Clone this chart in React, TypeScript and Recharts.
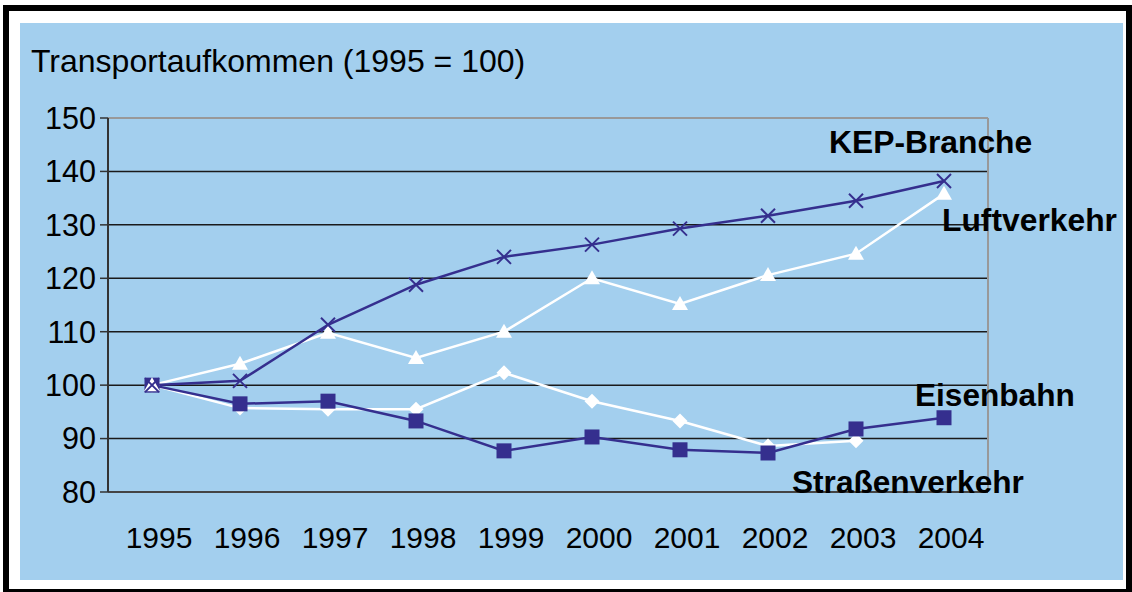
import React from "react";
import { LineChart, Line, XAxis, YAxis, ReferenceLine } from "recharts";

const years = ["1995", "1996", "1997", "1998", "1999", "2000", "2001", "2002", "2003", "2004"];
const kep = [100, 100.8, 111.3, 118.8, 124, 126.3, 129.3, 131.7, 134.5, 138.2];
const luft = [100, 104, 109.8, 105.1, 110, 120, 115.2, 120.6, 124.6, 135.8];
const strasse: (number | null)[] = [100, 95.7, 95.5, 95.5, 102.3, 97, 93.3, 88.6, 89.6, null];
const bahn = [100, 96.5, 97, 93.3, 87.7, 90.3, 87.9, 87.3, 91.8, 93.9];
const yTicks = [80, 90, 100, 110, 120, 130, 140, 150];
const gridValues = [90, 100, 110, 120, 130, 140];
const boundaryTicks = [-0.5, 0.5, 1.5, 2.5, 3.5, 4.5, 5.5, 6.5, 7.5, 8.5, 9.5];
const labelTicks = [0, 1, 2, 3, 4, 5, 6, 7, 8, 9];

const data = years.map((y, i) => ({
  i,
  year: y,
  kep: kep[i],
  luft: luft[i],
  strasse: strasse[i],
  bahn: bahn[i],
}));

const DARK = "#352f8e";
const FONT = "'Liberation Sans', Arial, sans-serif";

const SquareDot = (p: any) => {
  if (p.cx == null || p.cy == null || p.value == null) return null;
  return <rect key={p.index} x={p.cx - 7.5} y={p.cy - 7.5} width={15} height={15} fill={DARK} />;
};
const DiamondDot = (p: any) => {
  if (p.cx == null || p.cy == null || p.value == null) return null;
  const s = 7.5;
  return (
    <polygon
      key={p.index}
      points={`${p.cx},${p.cy - s} ${p.cx + s},${p.cy} ${p.cx},${p.cy + s} ${p.cx - s},${p.cy}`}
      fill="#fff"
    />
  );
};
const TriangleDot = (p: any) => {
  if (p.cx == null || p.cy == null || p.value == null) return null;
  return (
    <polygon
      key={p.index}
      points={`${p.cx},${p.cy - 8} ${p.cx + 8},${p.cy + 6} ${p.cx - 8},${p.cy + 6}`}
      fill="#fff"
    />
  );
};
const CrossDot = (p: any) => {
  if (p.cx == null || p.cy == null || p.value == null) return null;
  const s = 7;
  return (
    <g key={p.index} stroke={DARK} strokeWidth={2}>
      <line x1={p.cx - s} y1={p.cy - s} x2={p.cx + s} y2={p.cy + s} />
      <line x1={p.cx - s} y1={p.cy + s} x2={p.cx + s} y2={p.cy - s} />
    </g>
  );
};

const YearTick = (p: any) => {
  const { x, y, payload } = p;
  return (
    <text x={x + 7} y={y} dy={22} textAnchor="middle" fontSize={30} fontFamily={FONT} fill="#000">
      {years[payload.value]}
    </text>
  );
};

export default function App() {
  return (
    <div style={{ position: "absolute", left: 0, top: 0, width: 1132, height: 592, background: "#fff", overflow: "hidden" }}>
      <div
        style={{
          position: "absolute",
          left: 3,
          top: 5,
          width: 1129,
          height: 590,
          border: "6px solid #000",
          boxSizing: "border-box",
        }}
      />
      <div style={{ position: "absolute", left: 20, top: 23, width: 1103, height: 557, background: "#a3cfee" }} />
      <div style={{ position: "absolute", left: 0, top: 0 }}>
        <LineChart width={1132} height={592} data={data} margin={{ top: 118, right: 144, left: 48, bottom: 40 }}>
          <XAxis
            xAxisId={0}
            type="number"
            dataKey="i"
            domain={[-0.5, 9.5]}
            ticks={boundaryTicks}
            tick={false}
            tickSize={8}
            height={10}
            stroke="#333"
            axisLine={{ stroke: "#444", strokeWidth: 2 }}
            tickLine={{ stroke: "#333", strokeWidth: 1 }}
            allowDataOverflow
          />
          <XAxis
            xAxisId="lab"
            type="number"
            dataKey="i"
            domain={[-0.5, 9.5]}
            ticks={labelTicks}
            tick={<YearTick />}
            tickSize={0}
            tickMargin={24}
            axisLine={false}
            tickLine={false}
            height={50}
            allowDataOverflow
          />
          <YAxis
            type="number"
            domain={[80, 150]}
            ticks={yTicks}
            width={60}
            tickSize={8}
            tickMargin={4}
            tick={{ fontSize: 30.5, fontFamily: FONT, fill: "#000" }}
            axisLine={{ stroke: "#333", strokeWidth: 2 }}
            tickLine={{ stroke: "#333", strokeWidth: 1.5 }}
            interval={0}
          />
          {gridValues.map((v) => (
            <ReferenceLine key={v} y={v} stroke="#1a1a1a" strokeWidth={1.5} />
          ))}
          <ReferenceLine y={150} stroke="#999" strokeWidth={2} />
          <ReferenceLine x={9.5} stroke="#999" strokeWidth={2} />
          <Line
            dataKey="strasse"
            stroke="#fff"
            strokeWidth={2.5}
            dot={<DiamondDot />}
            isAnimationActive={false}
            connectNulls={false}
          />
          <Line dataKey="bahn" stroke={DARK} strokeWidth={2.5} dot={<SquareDot />} isAnimationActive={false} />
          <Line dataKey="luft" stroke="#fff" strokeWidth={2.5} dot={<TriangleDot />} isAnimationActive={false} />
          <Line dataKey="kep" stroke={DARK} strokeWidth={2.5} dot={<CrossDot />} isAnimationActive={false} />
        </LineChart>
      </div>
      <svg
        width={1132}
        height={592}
        style={{ position: "absolute", left: 0, top: 0, pointerEvents: "none" }}
        fontFamily={FONT}
      >
        <text x={31} y={72} fontSize={32} fill="#000">
          Transportaufkommen (1995 = 100)
        </text>
        <text x={829} y={153} fontSize={31.8} fontWeight="bold" fill="#000">
          KEP-Branche
        </text>
        <text x={942} y={231} fontSize={31.8} fontWeight="bold" fill="#000">
          Luftverkehr
        </text>
        <text x={915} y={406} fontSize={31.6} fontWeight="bold" fill="#000">
          Eisenbahn
        </text>
        <text x={792} y={493} fontSize={31.6} fontWeight="bold" fill="#000">
          Straßenverkehr
        </text>
      </svg>
    </div>
  );
}
